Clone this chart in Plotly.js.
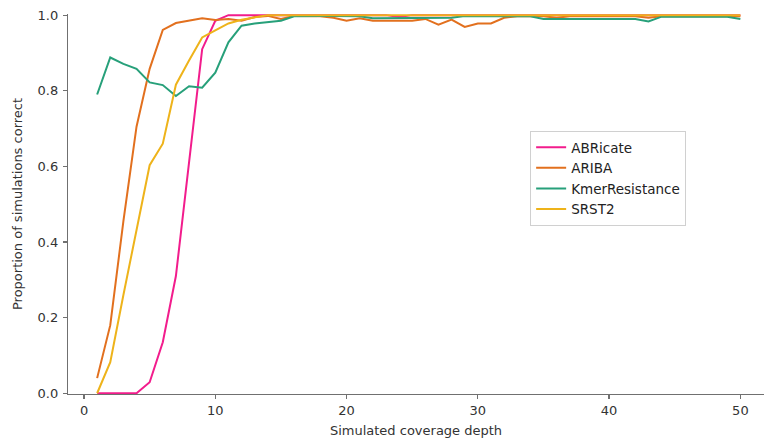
<!DOCTYPE html>
<html>
<head>
<meta charset="utf-8">
<script src="https://cdn.plot.ly/plotly-3.0.1.min.js"></script>
<style>html,body{margin:0;padding:0;background:#fff;}#chart{width:766px;height:444px;}</style>
</head>
<body>
<div id="chart"></div>
<script>
const depth = Array.from({length: 50}, (_, i) => i + 1);

const abricate = [0, 0, 0, 0, 0.029, 0.135, 0.31, 0.61, 0.91, 0.985,
  1, 1, 1, 1, 1, 1, 1, 1, 1, 1,
  1, 1, 1, 0.995, 1, 1, 1, 1, 1, 1,
  1, 1, 1, 1, 1, 1, 1, 1, 1, 1,
  1, 1, 1, 1, 1, 1, 1, 1, 1, 1];

const ariba = [0.04, 0.18, 0.455, 0.705, 0.858, 0.961, 0.979, 0.985, 0.992, 0.987,
  0.99, 0.985, 0.995, 0.998, 0.99, 0.998, 0.998, 0.997, 0.993, 0.985,
  0.992, 0.985, 0.985, 0.985, 0.985, 0.99, 0.975, 0.988, 0.969, 0.978,
  0.978, 0.993, 0.997, 0.998, 0.997, 0.993, 0.997, 0.997, 0.997, 0.997,
  0.997, 0.997, 0.993, 0.997, 0.997, 0.997, 0.997, 0.997, 0.997, 0.997];

const kmerResistance = [0.79, 0.888, 0.871, 0.858, 0.822, 0.815, 0.786, 0.812, 0.808, 0.848,
  0.928, 0.972, 0.978, 0.982, 0.985, 0.997, 0.998, 0.998, 0.998, 0.998,
  0.997, 0.992, 0.992, 0.992, 0.992, 0.992, 0.992, 0.993, 0.998, 0.998,
  0.998, 0.998, 0.998, 0.997, 0.99, 0.99, 0.99, 0.99, 0.99, 0.99,
  0.99, 0.99, 0.983, 0.996, 0.996, 0.996, 0.996, 0.996, 0.996, 0.99];

const srst2 = [0, 0.082, 0.26, 0.43, 0.603, 0.66, 0.816, 0.88, 0.941, 0.96,
  0.978, 0.988, 0.995, 1, 1, 1, 1, 1, 1, 1,
  1, 1, 1, 1, 1, 1, 1, 1, 1, 1,
  1, 1, 1, 1, 1, 1, 1, 1, 1, 1,
  1, 1, 1, 1, 1, 1, 1, 1, 1, 1];

const seriesNames = ['ABRicate', 'ARIBA', 'KmerResistance', 'SRST2'];
const seriesValues = [abricate, ariba, kmerResistance, srst2];
const colors = ['#f21c8c', '#e2701e', '#27a07a', '#eeb31a'];

const xTicks = [0, 10, 20, 30, 40, 50];
const yTicks = [0, 0.2, 0.4, 0.6, 0.8, 1.0];

const traces = seriesNames.map((name, i) => ({
  x: depth,
  y: seriesValues[i],
  name: name,
  type: 'scatter',
  mode: 'lines',
  line: {color: colors[i], width: 2}
}));

const font = {family: 'DejaVu Sans, sans-serif', size: 13, color: '#333'};

const layout = {
  width: 766,
  height: 444,
  margin: {l: 68, r: 2, t: 14, b: 50},
  paper_bgcolor: '#fff',
  plot_bgcolor: '#fff',
  font: font,
  showlegend: true,
  legend: {
    x: 0.664, y: 0.692, xanchor: 'left', yanchor: 'top',
    bgcolor: '#fff', bordercolor: '#d0d0d0', borderwidth: 1,
    font: {family: 'DejaVu Sans, sans-serif', size: 13.5, color: '#222'},
    tracegroupgap: 0
  },
  xaxis: {
    range: [-1.22, 51.8],
    tickvals: xTicks,
    ticktext: xTicks.map(String),
    showgrid: false, zeroline: false,
    showline: true, linecolor: '#707070', linewidth: 1.2,
    ticks: 'outside', ticklen: 4, tickcolor: '#707070', tickwidth: 1.2,
    tickfont: font,
    title: {text: 'Simulated coverage depth', font: font, standoff: 9}
  },
  yaxis: {
    range: [-0.002, 1.003],
    tickvals: yTicks,
    ticktext: yTicks.map(v => v.toFixed(1)),
    showgrid: false, zeroline: false,
    showline: true, linecolor: '#707070', linewidth: 1.2,
    ticks: 'outside', ticklen: 4, tickcolor: '#707070', tickwidth: 1.2,
    ticklabelstandoff: 2,
    tickfont: font,
    title: {text: 'Proportion of simulations correct', font: font, standoff: 12}
  }
};

Plotly.newPlot('chart', traces, layout, {displayModeBar: false, staticPlot: true});
</script>
</body>
</html>
